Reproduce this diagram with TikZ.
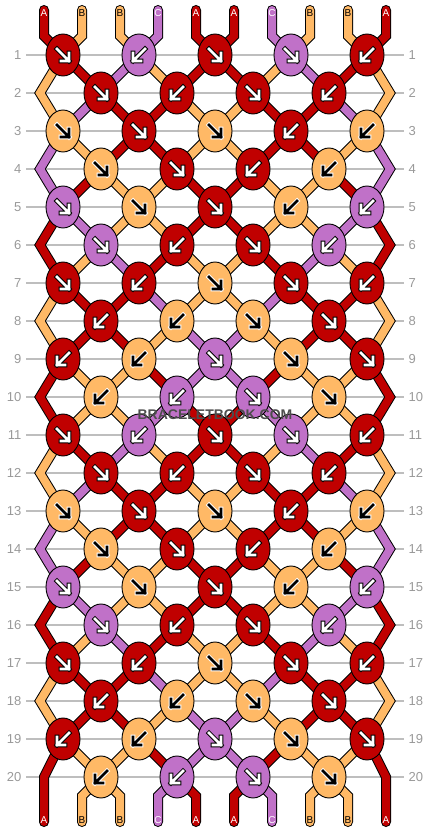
\documentclass[tikz,border=0pt]{standalone}
\usepackage{fontspec}
\setmainfont{Liberation Sans}
\usetikzlibrary{shapes.geometric,backgrounds}

\definecolor{strA}{HTML}{C00000}
\definecolor{strB}{HTML}{FFB966}
\definecolor{strC}{HTML}{C071C8}
\colorlet{fgA}{white}\colorlet{fgB}{black}\colorlet{fgC}{white}
\colorlet{lnA}{black}\colorlet{lnB}{white}\colorlet{lnC}{black}
\colorlet{txA}{white}\colorlet{txB}{black}\colorlet{txC}{white}
\definecolor{rowgray}{HTML}{BEBEBE}
\definecolor{numgray}{HTML}{999999}
\definecolor{markgray}{HTML}{4D4D4D}

\tikzset{
  knot/.style={ellipse, draw=black, line width=0.9pt, minimum width=34pt,
    minimum height=42pt, inner sep=0pt},
  strandline/.style={black, line width=10pt, line cap=round, line join=miter},
  strand/.style={line width=8pt, line cap=round, line join=miter},
  rownum/.style={text=numgray, font=\fontsize{13}{13}\selectfont, inner sep=0pt},
  strandname/.style={font=\fontsize{10}{10}\selectfont, inner sep=0pt},
  arrowline/.style={line width=4.6pt, line cap=rect, line join=miter},
  arrowfill/.style={line width=2.6pt, line cap=rect, line join=miter},
  watermark/.style={font=\bfseries\fontsize{14}{14}\selectfont, inner sep=0pt},
}

\def\sgnF{1}
\def\sgnB{-1}
% arrow in a knot: node, direction (F or B), strand letter
\newcommand{\knotarrow}[3]{%
  \begin{scope}[shift={(#1.center)}, xscale=\csname sgn#2\endcsname]
    \draw[arrowline, ln#3] (-6,-6) -- (6,6) (6,-2) -- (6,6) -- (-2,6);
    \draw[arrowfill, fg#3] (-6,-6) -- (6,6) (6,-2) -- (6,6) -- (-2,6);
  \end{scope}}

\begin{document}
\begin{tikzpicture}[x=1pt, y=-1pt]
\useasboundingbox (0,0) rectangle (430,832);

% knots: rows 1-10, then the same again for 11-20
\foreach \base in {0,10}{
  \foreach \r/\row in {
    1/{A/F,C/B,A/F,C/F,A/B},
    2/{A/F,A/B,A/F,A/B},
    3/{B/F,A/F,B/F,A/B,B/B},
    4/{B/F,A/F,A/B,B/B},
    5/{C/F,B/F,A/F,B/B,C/B},
    6/{C/F,A/B,A/F,C/B},
    7/{A/F,A/B,B/F,A/F,A/B},
    8/{A/B,B/B,B/F,A/F},
    9/{A/B,B/B,C/F,B/F,A/F},
    10/{B/B,C/B,C/F,B/F}}{
    \pgfmathtruncatemacro\rr{\r+\base}
    \pgfmathsetmacro\ky{55+38*(\rr-1)}
    \foreach \kc/\kd [count=\j] in \row {
      \pgfmathsetmacro\kx{63+38*mod(\rr+1,2)+76*(\j-1)}
      \node[knot, fill=str\kc] (k\rr-\j) at (\kx,\ky) {};
      \knotarrow{k\rr-\j}{\kd}{\kc}
    }
  }
}

% row numbers and edge turning points
\foreach \rr in {1,...,20}{
  \pgfmathsetmacro\ky{55+38*(\rr-1)}
  \node[rownum, anchor=east] (ln-\rr) at (21.5,\ky) {\rr};
  \node[rownum, anchor=west] (rn-\rr) at (408.5,\ky) {\rr};
  \coordinate (el-\rr) at (40,\ky);
  \coordinate (er-\rr) at (390,\ky);
}
\coordinate (el-20) at (44,777);
\coordinate (er-20) at (386,777);

% strand ends and names
\foreach \s/\sc in {1/A,2/B,3/B,4/C,5/A,6/A,7/C,8/B,9/B,10/A}{
  \pgfmathsetmacro\sx{44+38*(\s-1)}
  \coordinate (top-\s) at (\sx,10);
  \coordinate (bend-\s) at (\sx,36);
  \coordinate (fin-\s) at (\sx,796);
  \coordinate (bot-\s) at (\sx,822);
  \node[strandname, text=tx\sc] (tn-\s) at (\sx,13) {\sc};
  \node[strandname, text=tx\sc] (bn-\s) at (\sx,820) {\sc};
}

\begin{scope}[on background layer]
  \foreach \rr in {1,...,20}{
    \pgfmathsetmacro\ky{55+38*(\rr-1)}
    \draw[rowgray, line width=1.3pt] (26,\ky) -- (404,\ky);
  }
  % every strand from top to bottom through its knots
  \foreach \s/\sc in {1/A,2/B,3/B,4/C,5/A,6/A,7/C,8/B,9/B,10/A}{
    \xdef\pos{\s}
    \xdef\strandpath{(top-\s) -- (bend-\s)}
    \foreach \rr in {1,...,20}{
      \pgfmathtruncatemacro\isodd{mod(\rr,2)}
      \ifnum\isodd=1
        \pgfmathtruncatemacro\j{int((\pos+1)/2)}
        \edef\pt{k\rr-\j.center}
        \pgfmathtruncatemacro\newpos{mod(\pos,2)==1 ? \pos+1 : \pos-1}
      \else
        \ifnum\pos=1
          \edef\pt{el-\rr}\def\newpos{1}
        \else\ifnum\pos=10
          \edef\pt{er-\rr}\def\newpos{10}
        \else
          \pgfmathtruncatemacro\j{int(\pos/2)}
          \edef\pt{k\rr-\j.center}
          \pgfmathtruncatemacro\newpos{mod(\pos,2)==0 ? \pos+1 : \pos-1}
        \fi\fi
      \fi
      \xdef\strandpath{\strandpath -- (\pt)}
      \xdef\pos{\newpos}
    }
    \xdef\strandpath{\strandpath -- (fin-\pos) -- (bot-\pos)}
    \edef\drawstrand{\noexpand\draw[strandline] \strandpath;
      \noexpand\draw[strand, str\sc] \strandpath;}
    \drawstrand
  }
\end{scope}

\node[watermark, text=markgray] (mark) at (215,415) {BRACELETBOOK.COM};
\end{tikzpicture}
\end{document}
